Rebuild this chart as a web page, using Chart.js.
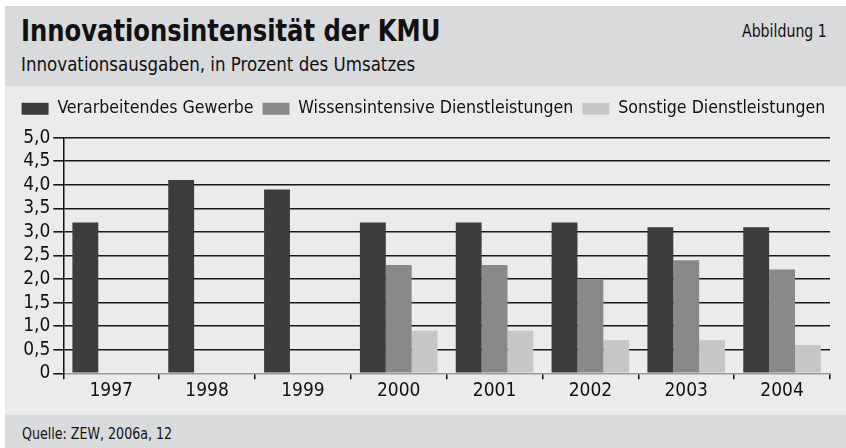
<!DOCTYPE html>
<html>
<head>
<meta charset="utf-8">
<script src="https://cdn.jsdelivr.net/npm/chart.js@4"></script>
<style>
  body { margin: 0; background: #fff; width: 846px; height: 448px; overflow: hidden; }
  #fig { position: absolute; left: 5px; top: 6px; width: 841px; height: 442px; font-family: 'DejaVu Sans Condensed', 'DejaVu Sans', sans-serif; color: #111; }
  .band { position: absolute; left: 0; width: 841px; }
  .txt { position: absolute; white-space: nowrap; line-height: 1; }
</style>
</head>
<body>
<div id="fig">
  <div class="band" style="top:0;height:80px;background:#d9dadc">
    <span class="txt" id="title" style="left:15.7px;font-size:30px;font-weight:bold">Innovationsintensität der KMU</span>
    <span class="txt" id="subtitle" style="left:15.7px;font-size:20px">Innovationsausgaben, in Prozent des Umsatzes</span>
    <span class="txt" id="fignum" style="right:19px;font-size:17px">Abbildung 1</span>
  </div>
  <div class="band" style="top:80px;height:329px;background:#ebebeb">
    <canvas id="chart"></canvas>
  </div>
  <div class="band" style="top:409px;height:33px;background:#d9dadc">
    <span class="txt" id="source" style="left:17px;font-size:15px">Quelle: ZEW, 2006a, 12</span>
  </div>
</div>
<script>
// Daten
const years = ['1997', '1998', '1999', '2000', '2001', '2002', '2003', '2004'];
const verarbeitendes = [3.2, 4.1, 3.9, 3.2, 3.2, 3.2, 3.1, 3.1];
const wissensintensive = [null, null, null, 2.3, 2.3, 2.0, 2.4, 2.2];
const sonstige = [null, null, null, 0.9, 0.9, 0.7, 0.7, 0.6];
const seriesNames = ['Verarbeitendes Gewerbe', 'Wissensintensive Dienstleistungen', 'Sonstige Dienstleistungen'];
const seriesColors = ['#3d3d3f', '#88898b', '#c5c6c8'];

// Text auf Zielbreite bringen (baseline = Grundlinie im Band)
function place(id, baseline, width, fromRight) {
  const el = document.getElementById(id);
  const fs = parseFloat(el.style.fontSize);
  el.style.top = (baseline - 0.846 * fs) + 'px';
  el.style.transformOrigin = fromRight ? 'right center' : 'left center';
  el.style.transform = 'scaleX(' + (width / el.offsetWidth) + ')';
}
place('title', 35.7, 419, false);
place('subtitle', 65, 394, false);
place('fignum', 31.3, 85, true);
place('source', 24.3, 150, false);

const font = { family: "'DejaVu Sans Condensed', 'DejaVu Sans', sans-serif" };

// etwas Luft zwischen Legende und Diagramm
const legendGap = {
  id: 'legendGap',
  afterInit(chart) {
    const fit = chart.legend.fit;
    chart.legend.fit = function () { fit.call(this); this.height += 10; };
  }
};

new Chart(document.getElementById('chart'), {
  type: 'bar',
  data: {
    labels: years,
    datasets: [
      { label: seriesNames[0], data: verarbeitendes, backgroundColor: seriesColors[0] },
      { label: seriesNames[1], data: wissensintensive, backgroundColor: seriesColors[1] },
      { label: seriesNames[2], data: sonstige, backgroundColor: seriesColors[2] }
    ]
  },
  plugins: [legendGap],
  options: {
    responsive: true,
    maintainAspectRatio: false,
    animation: false,
    categoryPercentage: 0.81,
    barPercentage: 1,
    layout: { padding: { left: 7.6, right: 0, top: 5, bottom: 0 } },
    plugins: {
      tooltip: { enabled: false },
      legend: {
        align: 'start',
        labels: {
          boxWidth: 27,
          boxHeight: 12,
          padding: 9,
          color: '#111',
          font: { ...font, size: 17.6 }
        }
      }
    },
    scales: {
      x: {
        offset: true,
        afterFit: s => { s.height = 41.7; },
        grid: { display: true, drawOnChartArea: false, drawTicks: true, tickLength: 6, color: '#111', lineWidth: 1.5 },
        border: { display: true, color: '#9c9c9c', width: 1 },
        ticks: { color: '#111', padding: 0, font: { ...font, size: 19 } }
      },
      y: {
        min: 0,
        max: 5,
        afterFit: s => { s.width = 50.7; },
        grid: {
          color: c => c.tick && c.tick.value === 0 ? '#9c9c9c' : '#1a1a1a',
          tickColor: '#1a1a1a',
          lineWidth: 1.6,
          tickLength: 10
        },
        border: { display: true, color: '#111', width: 1.5 },
        ticks: {
          stepSize: 0.5,
          autoSkip: false,
          padding: 3,
          color: '#111',
          font: { ...font, size: 19 },
          callback: v => v === 0 ? '0' : v.toFixed(1).replace('.', ',')
        }
      },
      // leere Achse rechts, hält den Rand frei
      rechts: {
        type: 'linear',
        position: 'right',
        afterFit: s => { s.width = 16; },
        grid: { display: false },
        border: { display: false },
        ticks: { display: false }
      }
    }
  }
});
</script>
</body>
</html>
